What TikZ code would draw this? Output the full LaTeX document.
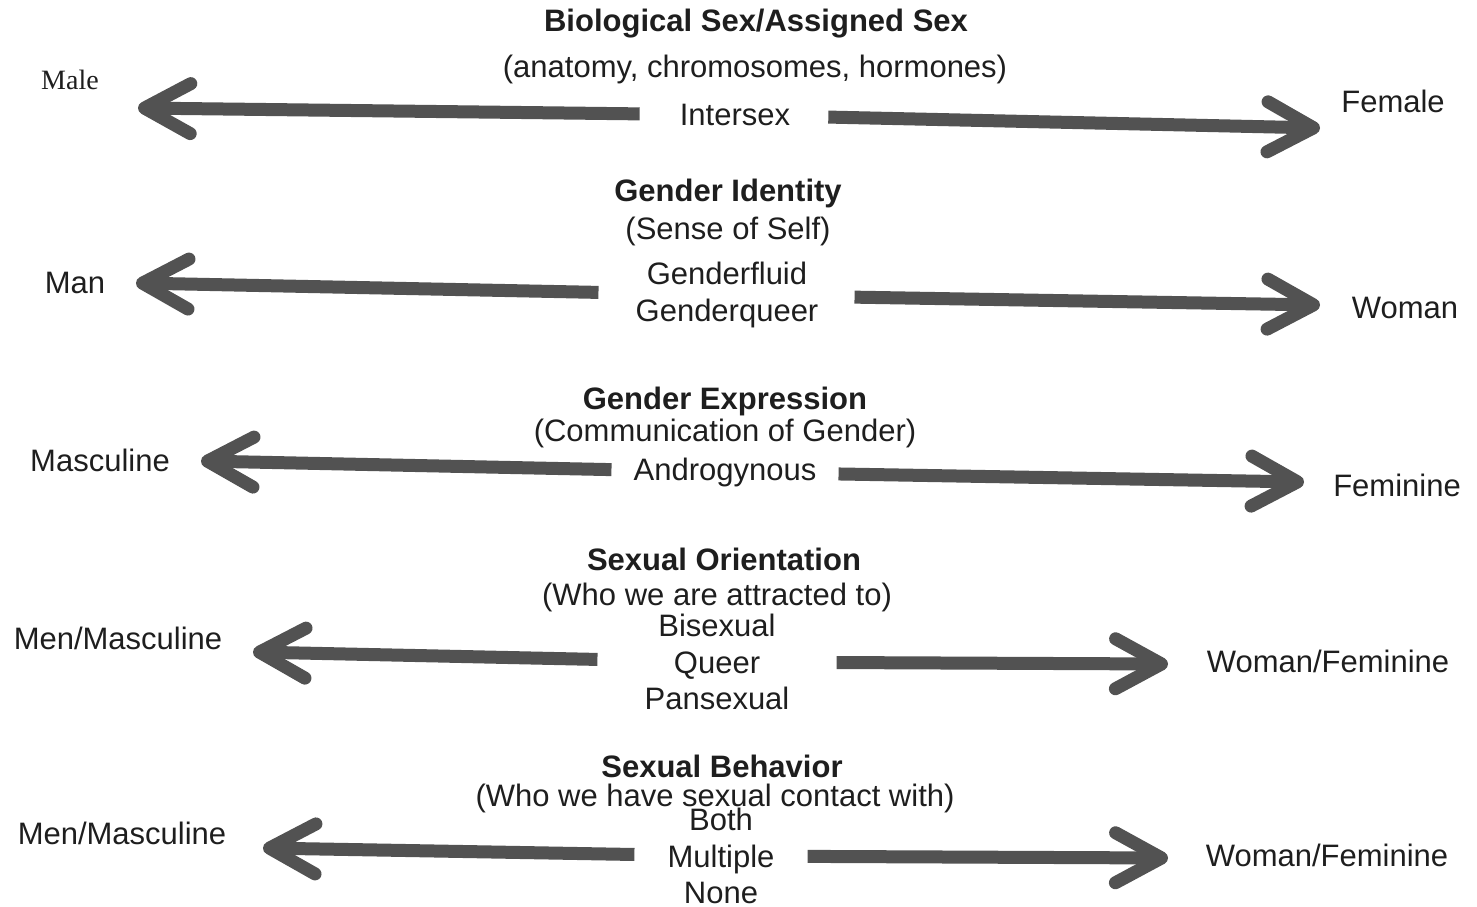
\documentclass[tikz,border=0pt]{standalone}
\usepackage{fontspec}
\setmainfont{Liberation Sans}
\newfontfamily\timesface{Liberation Serif}
\usetikzlibrary{arrows.meta}

\definecolor{bargray}{HTML}{525252}
\definecolor{inkblack}{HTML}{1E1E1E}

\begin{document}
\begin{tikzpicture}[x=1pt, y=-1pt,
    every node/.style={text=inkblack, inner sep=0pt, font=\fontsize{31}{36.5}\selectfont},
    title/.style={font=\fontsize{31}{36.5}\selectfont\bfseries},
    stack/.style={align=center},
    spectrum/.style={draw=bargray, line width=13pt,
      -{Straight Barb[length=46pt, width=50pt, round]}}]
    \useasboundingbox (0,0) rectangle (1477,907);

    % biological sex
    \node[title] (sextitle) at (756,24) {Biological Sex/Assigned Sex};
    \node (sexsub) at (755,69) {(anatomy, chromosomes, hormones)};
    \node (intersex) at (735,115) {Intersex};
    \node[font=\fontsize{28}{34}\timesface] (male) at (70,80) {Male};
    \node (female) at (1393,101) {Female};
    \coordinate (maletip) at (138,108);
    \coordinate (femaletip) at (1320,128);

    % gender identity
    \node[title] (identtitle) at (728,193) {Gender Identity};
    \node (identsub) at (728,231) {(Sense of Self)};
    \node[stack] (identmid) at (727,295) {Genderfluid\\Genderqueer};
    \node (man) at (75,283) {Man};
    \node (woman) at (1405,308) {Woman};
    \coordinate (mantip) at (136,283);
    \coordinate (womantip) at (1320,305);

    % gender expression
    \node[title] (expresstitle) at (725,401) {Gender Expression};
    \node (expresssub) at (725,433) {(Communication of Gender)};
    \node (androgynous) at (725,472) {Androgynous};
    \node (masculine) at (100,460) {Masculine};
    \node (feminine) at (1397,485) {Feminine};
    \coordinate (masctip) at (201,461);
    \coordinate (femtip) at (1304,482);

    % sexual orientation
    \node[title] (orienttitle) at (724,559) {Sexual Orientation};
    \node (orientsub) at (717,597) {(Who we are attracted to)};
    \node[stack] (orientmid) at (717,662) {Bisexual\\Queer\\Pansexual};
    \node (orientmen) at (118,638) {Men/Masculine};
    \node (orientwomen) at (1328,661) {Woman/Feminine};
    \coordinate (orientmentip) at (253,652);
    \coordinate (orientwomentip) at (1168,664);

    % sexual behavior
    \node[title] (behavtitle) at (722,766) {Sexual Behavior};
    \node (behavsub) at (715,798) {(Who we have sexual contact with)};
    \node[stack] (behavmid) at (721,856) {Both\\Multiple\\None};
    \node (behavmen) at (122,833) {Men/Masculine};
    \node (behavwomen) at (1327,855) {Woman/Feminine};
    \coordinate (behavmentip) at (263,848);
    \coordinate (behavwomentip) at (1168,858);

    \draw[spectrum, shorten <=40pt] (intersex) -- (maletip);
    \draw[spectrum, shorten <=38pt] (intersex) -- (femaletip);
    \draw[spectrum, shorten <=37pt] (identmid) -- (mantip);
    \draw[spectrum, shorten <=36pt] (identmid) -- (womantip);
    \draw[spectrum, shorten <=22pt] (androgynous) -- (masctip);
    \draw[spectrum, shorten <=22pt] (androgynous) -- (femtip);
    \draw[spectrum, shorten <=47pt] (orientmid) -- (orientmentip);
    \draw[spectrum, shorten <=47pt] (orientmid) -- (orientwomentip);
    \draw[spectrum, shorten <=33pt] (behavmid) -- (behavmentip);
    \draw[spectrum, shorten <=33pt] (behavmid) -- (behavwomentip);
\end{tikzpicture}
\end{document}
